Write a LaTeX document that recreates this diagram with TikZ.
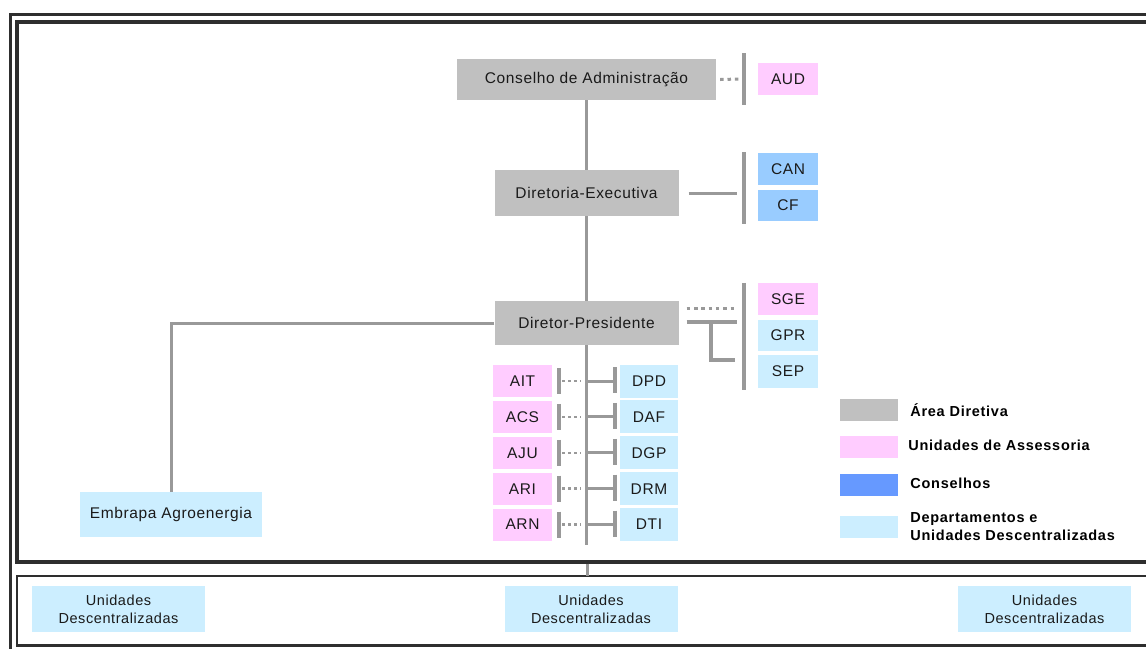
\documentclass[tikz,border=0pt]{standalone}
\usepackage{fontspec}
\setmainfont{Liberation Sans}
\newfontfamily\boxfont{Liberation Sans}[LetterSpace=4]
\newfontfamily\legfont{Liberation Sans}[LetterSpace=5]
\usetikzlibrary{calc}

\definecolor{diretiva}{HTML}{C0C0C0}
\definecolor{assessoria}{HTML}{FFCCFF}
\definecolor{conselho}{HTML}{99CCFF}
\definecolor{conselholeg}{HTML}{6699FF}
\definecolor{depto}{HTML}{CCEEFF}
\definecolor{linha}{HTML}{999999}
\definecolor{moldura}{HTML}{2E2E2E}
\definecolor{texto}{HTML}{1A1A1A}

\tikzset{
  box/.style={inner sep=0pt, text=texto, align=center,
              font=\boxfont\fontsize{15.5}{17}\selectfont},
  dirbox/.style={box, fill=diretiva},
  assbox/.style={box, fill=assessoria, minimum width=59, minimum height=32},
  consbox/.style={box, fill=conselho, minimum width=60, minimum height=32},
  depbox/.style={box, fill=depto},
  unitbox/.style={box, fill=depto, minimum width=173, minimum height=46,
                  font=\boxfont\fontsize{14.5}{18}\selectfont},
  link/.style={draw=linha, line width=3.5pt},
  thinlink/.style={draw=linha, line width=3pt},
  bracket/.style={draw=linha, line width=3.5pt},
  dotlink/.style={draw=linha, line width=3pt, dash pattern=on 3.5pt off 3.8pt},
  rowdots/.style={draw=linha, line width=2.5pt, dash pattern=on 3pt off 3pt},
  frame/.style={draw=moldura, line width=3pt},
  legkey/.style={minimum width=58, minimum height=22, inner sep=0pt},
  legtext/.style={anchor=west, inner sep=0pt, align=left, text=black,
                  font=\legfont\bfseries\fontsize{14.5}{18}\selectfont},
}

\begin{document}
\begin{tikzpicture}[x=1pt, y=-1pt]
  \useasboundingbox (0,0) rectangle (1146,648);
  \clip (0,0) rectangle (1146,648);
  \fill[white] (0,0) rectangle (1146,648);

  % frames
  \draw[frame] (10,700) -- (10,14) -- (1200,14);
  \draw[frame, line width=3.5pt] (1200,22) -- (17,22) -- (17,562) -- (1200,562);
  \draw[frame, line width=2.5pt] (1200,576) -- (17,576) -- (17,645.5) -- (1200,645.5);

  % main chain
  \node[dirbox, minimum width=259, minimum height=41] (ca) at (586.5,79.5) {Conselho de Administração};
  \node[dirbox, minimum width=184, minimum height=46] (de) at (586.5,193) {Diretoria-Executiva};
  \node[dirbox, minimum width=184, minimum height=44] (dp) at (586.5,323) {Diretor-Presidente};
  \coordinate (spineend) at (586.5,545);

  % advisory / council boxes on the right
  \node[assbox, minimum width=60] (aud) at (788,79) {AUD};
  \node[consbox] (can) at (788,169) {CAN};
  \node[consbox, minimum height=31] (cf) at (788,205.5) {CF};
  \node[assbox, minimum width=60] (sge) at (788,299) {SGE};
  \node[depbox, minimum width=60, minimum height=31] (gpr) at (788,335.5) {GPR};
  \node[depbox, minimum width=60, minimum height=33] (sep) at (788,371.5) {SEP};

  % Embrapa Agroenergia
  \node[depbox, minimum width=182, minimum height=45] (emb) at (171,514.5) {Embrapa Agroenergia};

  % rows of units under the president
  \foreach \lab/\dlab [count=\i] in {AIT/DPD, ACS/DAF, AJU/DGP, ARI/DRM, ARN/DTI} {
    \pgfmathsetmacro\cy{381+35.9*(\i-1)}
    \node[assbox] (a\i) at (522.5,\cy) {\lab};
    \node[depbox, minimum width=58, minimum height=33] (d\i) at (649,\cy) {\dlab};
  }

  % decentralised units
  \node[unitbox] (u1) at (118.5,609) {Unidades\\Descentralizadas};
  \node[unitbox] (u2) at (591,609) {Unidades\\Descentralizadas};
  \node[unitbox] (u3) at (1044.5,609) {Unidades\\Descentralizadas};

  % spine
  \draw[link] (ca.south) -- (de.north);
  \draw[link] (de.south) -- (dp.north);
  \draw[link] (dp.south) -- (spineend);
  \coordinate (stubtop) at (587,563.5);
  \coordinate (stubbot) at (587,576);
  \draw[thinlink] (stubtop) -- (stubbot);

  % Conselho -> AUD
  \coordinate (audbar) at ($(aud.west)+(-14,0)$);
  \draw[bracket] ($(audbar)+(0,-26)$) -- ($(audbar)+(0,26)$);
  \draw[dotlink] ($(ca.east)+(4,0)$) -- ($(audbar)+(-4,0)$);

  % Diretoria -> CAN / CF
  \coordinate (ccbar) at ($(can.north west)!0.5!(cf.south west)+(-14,1)$);
  \draw[bracket] ($(ccbar)+(0,-36)$) -- ($(ccbar)+(0,36)$);
  \draw[thinlink] ($(de.east)+(10,0)$) -- ($(de.east -| ccbar)+(-7,0)$);

  % Presidente -> SGE / GPR / SEP
  \coordinate (sgbar) at ($(sge.north west)+(-14,0)$);
  \draw[bracket] (sgbar) -- ($(sep.south west)+(-14,2)$);
  \draw[dotlink] ($(dp.east)+(8,-15)$) -- ($(dp.east -| sgbar)+(-7,-15)$);
  \draw[link] ($(dp.east)+(8,-1)$) -- ($(dp.east -| sgbar)+(-7,-1)$);
  \draw[link] ($(dp.east)+(32.5,-1)$) |- ($(dp.east -| sgbar)+(-9,37)$);

  % Presidente -> Embrapa Agroenergia
  \draw[thinlink] (dp.west) -| (emb.north);

  % row connectors
  \foreach \i in {1,...,5} {
    \draw[bracket] ($(a\i.east)+(7,-13)$) -- ($(a\i.east)+(7,13)$);
    \draw[rowdots] ($(a\i.east)+(10,0)$) -- ($(a\i.east -| dp.south)+(-6,0)$);
    \draw[thinlink] (a\i.east -| dp.south) -- ($(d\i.west)+(-6,0)$);
    \draw[bracket] ($(d\i.west)+(-5,-14)$) -- ($(d\i.west)+(-5,12)$);
  }

  % legend
  \node[legkey, fill=diretiva] (k1) at (869,410) {};
  \node[legkey, fill=assessoria] (k2) at (869,446.5) {};
  \node[legkey, fill=conselholeg] (k3) at (869,485) {};
  \node[legkey, fill=depto] (k4) at (869,526.5) {};
  \node[legtext] (t1) at ($(k1.east)+(12,0)$) {Área Diretiva};
  \node[legtext] (t2) at ($(k2.east)+(10,-1)$) {Unidades de Assessoria};
  \node[legtext] (t3) at ($(k3.east)+(12,-2)$) {Conselhos};
  \node[legtext] (t4) at ($(k4.east)+(12,0)$) {Departamentos e\\Unidades Descentralizadas};
\end{tikzpicture}
\end{document}
